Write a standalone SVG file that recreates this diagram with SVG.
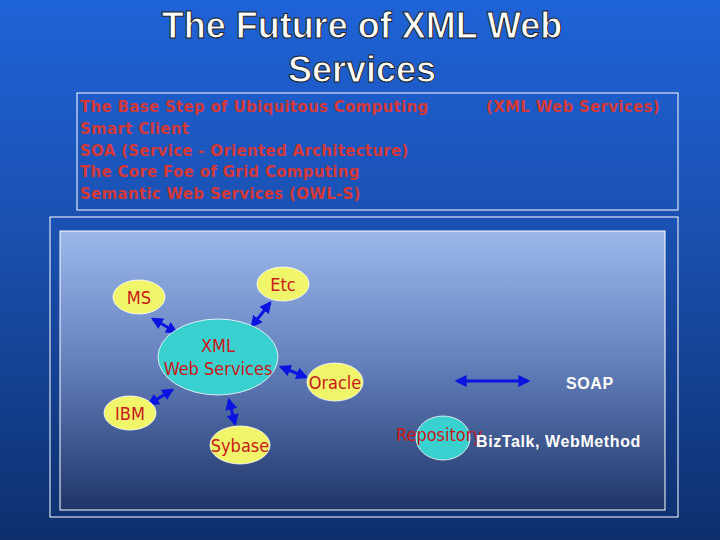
<svg xmlns="http://www.w3.org/2000/svg" width="720" height="540" viewBox="0 0 720 540">
<defs>
<linearGradient id="bg" x1="0" y1="0" x2="0" y2="1"><stop offset="0" stop-color="#1e63d8"/><stop offset="0.45" stop-color="#1a4fae"/><stop offset="1" stop-color="#0d2f6e"/></linearGradient>
<linearGradient id="panel" x1="0" y1="0" x2="0" y2="1"><stop offset="0" stop-color="#9cb8ea"/><stop offset="0.45" stop-color="#6683c0"/><stop offset="1" stop-color="#1f3568"/></linearGradient>
<marker id="ah" viewBox="0 0 10 10" refX="8" refY="5" markerWidth="4" markerHeight="4" orient="auto-start-reverse"><path d="M0,0 L10,5 L0,10 z" fill="#0a14e0"/></marker>
<style>
.t{font-family:"Liberation Sans",Arial,sans-serif}
.red{font-family:"DejaVu Sans",sans-serif;font-size:15px;font-weight:bold;fill:#d43838;letter-spacing:0.3px}
.y{fill:#f0f56a;stroke:#ffffff;stroke-width:0.8}
.c{fill:#39d0d0;stroke:#ffffff;stroke-width:0.8}
.nl{font-family:"DejaVu Sans Condensed","DejaVu Sans",sans-serif;font-size:18px;fill:#c81818;text-anchor:middle}
.ar{stroke:#0a14e0;stroke-width:3;marker-start:url(#ah);marker-end:url(#ah)}
.w{font-family:"Liberation Sans",Arial,sans-serif;font-weight:bold;font-size:16px;fill:#ffffff;letter-spacing:0.6px}
</style>
</defs>
<rect width="720" height="540" fill="url(#bg)"/>
<text class="t" x="362" y="38" font-size="36" font-weight="bold" fill="#ffffff" stroke="#222" stroke-width="1" text-anchor="middle">The Future of XML Web</text>
<text class="t" x="362" y="82" font-size="36" font-weight="bold" fill="#ffffff" stroke="#222" stroke-width="1" text-anchor="middle">Services</text>
<rect x="77" y="93" width="601" height="117" fill="none" stroke="#ffffff" stroke-width="1"/>
<text class="red" x="80" y="112">The Base Step of Ubiquitous Computing</text>
<text class="red" x="486" y="112">(XML Web Services)</text>
<text class="red" x="80" y="134">Smart Client</text>
<text class="red" x="80" y="156">SOA (Service - Oriented Architecture)</text>
<text class="red" x="80" y="177">The Core Foe of Grid Computing</text>
<text class="red" x="80" y="199">Semantic Web Services (OWL-S)</text>
<rect x="50" y="217" width="628" height="300" fill="none" stroke="#ffffff" stroke-width="1"/>
<rect x="60" y="231" width="605" height="279" fill="url(#panel)" stroke="#ffffff" stroke-width="1"/>
<g id="connectors">
<line class="ar" x1="153" y1="319" x2="176" y2="332"/>
<line class="ar" x1="270" y1="303" x2="252" y2="326"/>
<line class="ar" x1="281" y1="367" x2="306" y2="377"/>
<line class="ar" x1="149" y1="404" x2="172" y2="390"/>
<line class="ar" x1="229" y1="400" x2="235" y2="424"/>
<line class="ar" x1="457" y1="381" x2="528" y2="381"/>
</g>
<g id="ms"><ellipse class="y" cx="139" cy="297" rx="26" ry="17"/><text class="nl" x="139" y="304">MS</text></g>
<g id="etc"><ellipse class="y" cx="283" cy="284" rx="26" ry="17"/><text class="nl" x="283" y="291">Etc</text></g>
<g id="xml"><ellipse class="c" cx="218" cy="357" rx="60" ry="38"/><text class="nl" x="218" y="352">XML</text><text class="nl" x="218" y="375">Web Services</text></g>
<g id="oracle"><ellipse class="y" cx="335" cy="382" rx="28" ry="19"/><text class="nl" x="335" y="389">Oracle</text></g>
<g id="ibm"><ellipse class="y" cx="130" cy="413" rx="26" ry="17"/><text class="nl" x="130" y="420">IBM</text></g>
<g id="sybase"><ellipse class="y" cx="240" cy="445" rx="30" ry="19"/><text class="nl" x="240" y="452">Sybase</text></g>
<g id="soap"><text class="w" x="566" y="389">SOAP</text></g>
<g id="repository"><ellipse class="c" cx="443" cy="438" rx="27" ry="22"/><text class="nl" x="439" y="441" font-size="15">Repository</text></g>
<g id="biztalk"><text class="w" x="476" y="447">BizTalk, WebMethod</text></g>
</svg>
